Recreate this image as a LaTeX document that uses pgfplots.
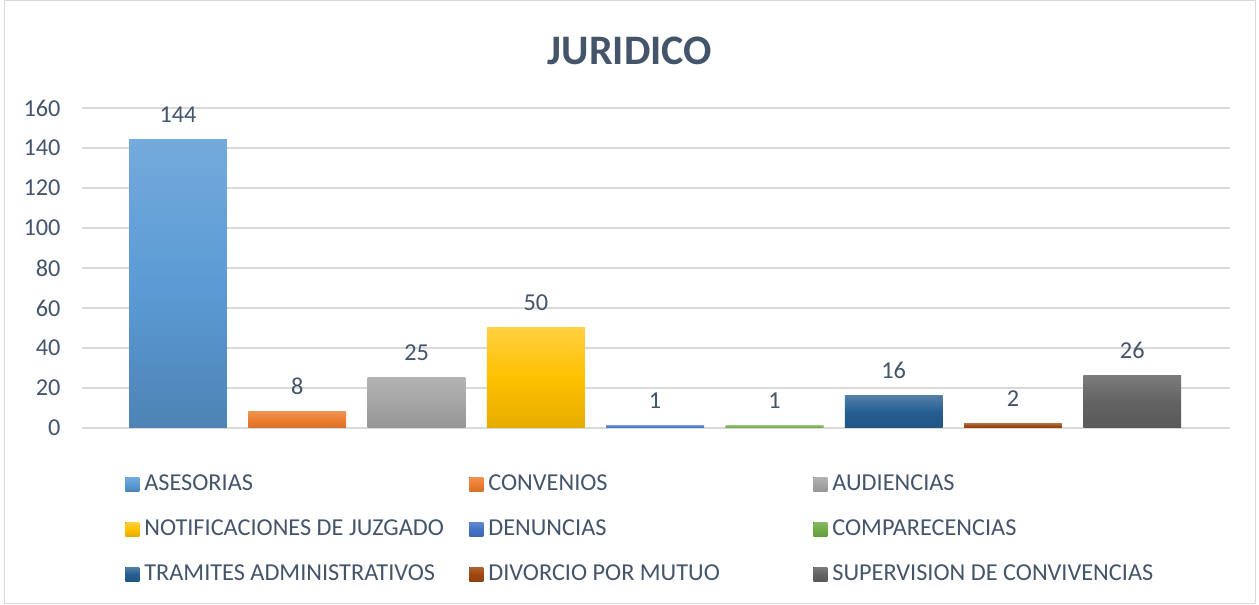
\documentclass[border=0pt]{standalone}
\usepackage{pgfplots}
\pgfplotsset{compat=1.18}
\usepackage{fontspec}
\setmainfont{Carlito}
\definecolor{txt}{HTML}{44546A}
\definecolor{gridc}{HTML}{D9D9D9}
\definecolor{cA}{HTML}{5B9BD5}
\definecolor{cB}{HTML}{ED7D31}
\definecolor{cC}{HTML}{A5A5A5}
\definecolor{cD}{HTML}{FFC000}
\definecolor{cE}{HTML}{4472C4}
\definecolor{cF}{HTML}{70AD47}
\definecolor{cG}{HTML}{255E91}
\definecolor{cH}{HTML}{9E480E}
\definecolor{cI}{HTML}{636363}
\newcommand{\lab}[1]{\makebox[326pt][l]{\hspace{3pt}#1}}
\begin{document}
\begin{tikzpicture}
\path (0pt,0pt) rectangle (1259pt,605pt);
\draw[gridc, line width=1pt] (4pt,1pt) rectangle (1255pt,604pt);
\node[txt, font=\fontsize{42}{50}\selectfont\bfseries] at (630pt,554pt) {JURIDICO};
\begin{axis}[
  at={(82pt,177pt)}, anchor=south west,
  scale only axis, width=1148pt, height=320pt,
  xmin=-0.805, xmax=8.82, ymin=0, ymax=160,
  ytick={0,20,...,160}, xtick=\empty,
  axis line style={draw=none},
  major tick length=0pt,
  ymajorgrids, grid style={gridc, line width=1.2pt},
  /pgf/number format/assume math mode=true,
  yticklabel style={txt, font=\fontsize{24.3}{28}\selectfont, xshift=-18pt},
  ybar, bar width=0.82, bar shift=0pt,
  nodes near coords,
  every node near coord/.append style={txt, font=\fontsize{24.3}{28}\selectfont, yshift=14pt},
  legend image code/.code={\fill[#1] (0pt,-6pt) rectangle (14pt,8pt);},
  legend columns=3,
  legend style={at={(0.035,-0.133)}, anchor=north west, draw=none, fill=none,
    font=\fontsize{24.3}{28}\selectfont, text=txt,
    nodes={inner sep=2pt, text height=16pt, text depth=5pt},
    row sep=20pt},
  legend cell align=left,
]
\addplot[draw=none, top color=cA!85!white, bottom color=cA!85!black, middle color=cA] coordinates {(0,144)};
\addlegendentry{\lab{ASESORIAS}}
\addplot[draw=none, top color=cB!85!white, bottom color=cB!90!black, middle color=cB] coordinates {(1,8)};
\addlegendentry{\lab{CONVENIOS}}
\addplot[draw=none, top color=cC!85!white, bottom color=cC!90!black, middle color=cC] coordinates {(2,25)};
\addlegendentry{\lab{AUDIENCIAS}}
\addplot[draw=none, top color=cD!75!white, bottom color=cD!90!black, middle color=cD] coordinates {(3,50)};
\addlegendentry{\lab{NOTIFICACIONES DE JUZGADO}}
\addplot[draw=none, top color=cE!85!white, bottom color=cE!90!black, middle color=cE] coordinates {(4,1)};
\addlegendentry{\lab{DENUNCIAS}}
\addplot[draw=none, top color=cF!85!white, bottom color=cF!90!black, middle color=cF] coordinates {(5,1)};
\addlegendentry{\lab{COMPARECENCIAS}}
\addplot[draw=none, top color=cG!80!white, bottom color=cG!90!black, middle color=cG] coordinates {(6,16)};
\addlegendentry{\lab{TRAMITES ADMINISTRATIVOS}}
\addplot[draw=none, top color=cH!85!white, bottom color=cH!90!black, middle color=cH] coordinates {(7,2)};
\addlegendentry{\lab{DIVORCIO POR MUTUO}}
\addplot[draw=none, top color=cI!85!white, bottom color=cI!90!black, middle color=cI] coordinates {(8,26)};
\addlegendentry{\lab{SUPERVISION DE CONVIVENCIAS}}
\end{axis}
\end{tikzpicture}
\end{document}
